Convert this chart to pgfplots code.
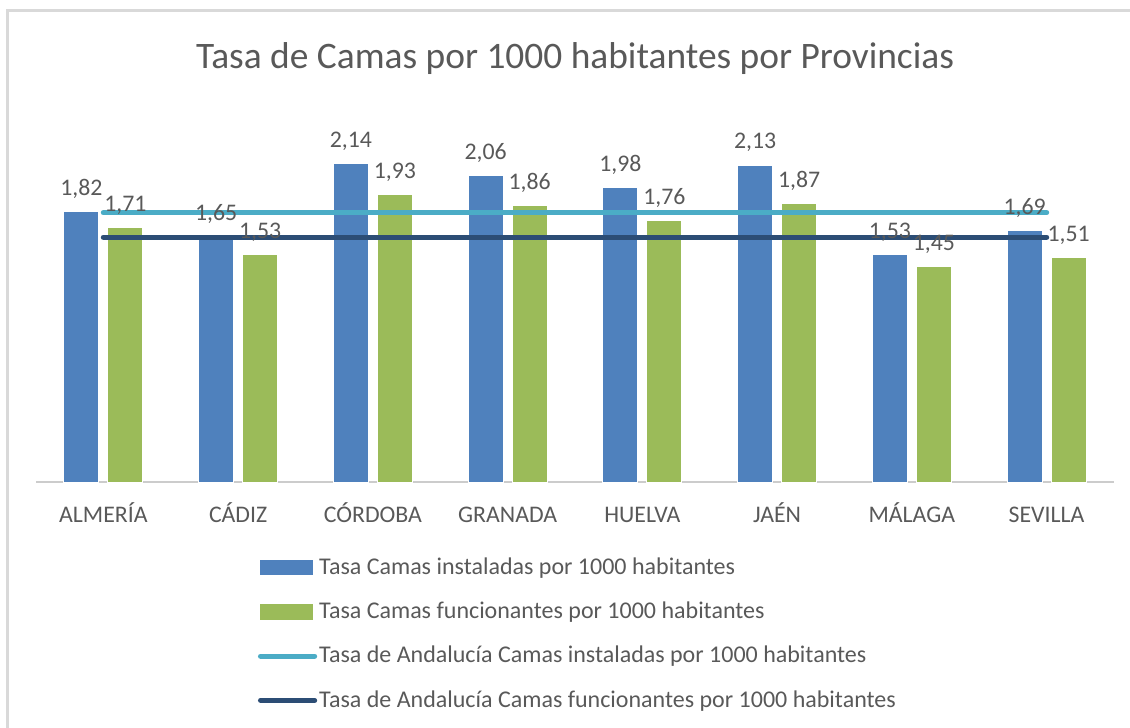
\documentclass[border=0pt]{standalone}
\usepackage{pgfplots}
\pgfplotsset{compat=1.18}
\usepackage{fontspec}
\setmainfont{Carlito}
\definecolor{cblue}{HTML}{4F81BD}
\definecolor{cgreen}{HTML}{9BBB59}
\definecolor{ccyan}{HTML}{4BACC6}
\definecolor{cdark}{HTML}{2C4D75}
\definecolor{ctext}{HTML}{595959}
\begin{document}
\begin{tikzpicture}
\path[use as bounding box] (0pt,0pt) rectangle (565pt,364pt);
\draw[color=black!15, line width=1.5pt] (3.75pt,0pt) -- (3.75pt,358.75pt) -- (565pt,358.75pt);
\node[text=ctext, font=\fontsize{18.7}{22}\selectfont] at (287.5pt,334.5pt) {Tasa de Camas por 1000 habitantes por Provincias};
\begin{axis}[
  at={(18pt,123pt)}, anchor=south west,
  scale only axis, width=539pt, height=186pt,
  xmin=-0.5, xmax=7.5, ymin=0, ymax=2.5,
  axis y line=none, axis x line*=bottom,
  x axis line style={draw=black!20, line width=0.9pt, -},
  xtick={0,...,7}, major tick length=0pt,
  xticklabels={ALMERÍA,CÁDIZ,CÓRDOBA,GRANADA,HUELVA,JAÉN,MÁLAGA,SEVILLA},
  xticklabel style={text=ctext, font=\fontsize{11.9}{14}\selectfont, anchor=base, yshift=-20pt},
  ybar, bar width=17.5pt,
  nodes near coords,
  every node near coord/.append style={text=ctext, font=\fontsize{11.9}{14}\selectfont, yshift=3pt},
  /pgf/number format/.cd, use comma, fixed, fixed zerofill, precision=2, assume math mode=true,
  /pgfplots/.cd,
  legend style={at={(0.2,-0.1865)}, anchor=north west, draw=none, fill=none,
    font=\fontsize{12}{14}\selectfont, text=ctext, row sep=10.3pt,
    nodes={inner sep=1pt}},
  legend cell align=left,
  clip=false,
]
\addplot+[bar shift=-11pt, fill=cblue, draw=white, line width=0.4pt,
  legend image code/.code={\fill[cblue] (-1pt,-3.6pt) rectangle (25pt,3.6pt);}]
  coordinates {(0,1.82) (1,1.65) (2,2.14) (3,2.06) (4,1.98) (5,2.13) (6,1.53) (7,1.69)};
\addlegendentry{Tasa Camas instaladas por 1000 habitantes}
\addplot+[bar shift=11pt, fill=cgreen, draw=white, line width=0.4pt,
  legend image code/.code={\fill[cgreen] (-1pt,-3.6pt) rectangle (25pt,3.6pt);}]
  coordinates {(0,1.71) (1,1.53) (2,1.93) (3,1.86) (4,1.76) (5,1.87) (6,1.45) (7,1.51)};
\addlegendentry{Tasa Camas funcionantes por 1000 habitantes}
\addplot+[sharp plot, no marks, nodes near coords=, color=ccyan, line width=2.6pt, line cap=round,
  legend image code/.code={\draw[ccyan, line width=2.6pt, line cap=round] (-1pt,0) -- (26pt,0);}]
  coordinates {(0,1.81) (7,1.81)};
\addlegendentry{Tasa de Andalucía Camas instaladas por 1000 habitantes}
\addplot+[sharp plot, no marks, nodes near coords=, color=cdark, line width=2.6pt, line cap=round,
  legend image code/.code={\draw[cdark, line width=2.6pt, line cap=round] (-1pt,0) -- (26pt,0);}]
  coordinates {(0,1.645) (7,1.645)};
\addlegendentry{Tasa de Andalucía Camas funcionantes por 1000 habitantes}
\end{axis}
\end{tikzpicture}
\end{document}
